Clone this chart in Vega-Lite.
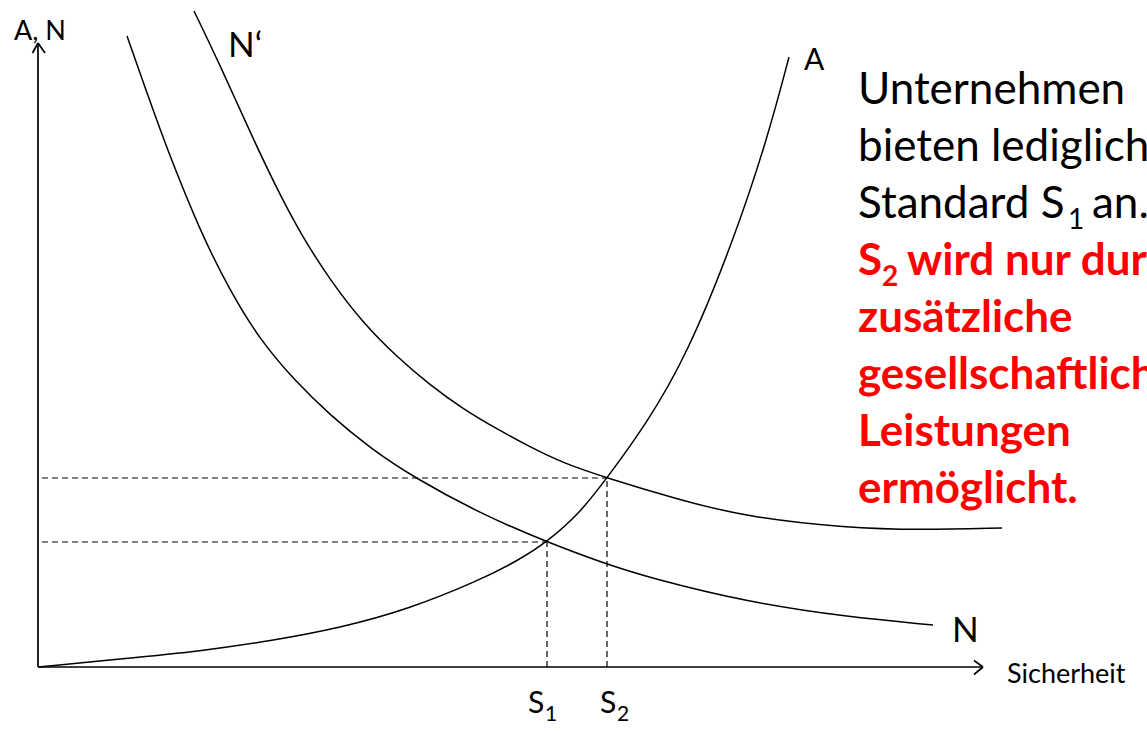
{
  "$schema": "https://vega.github.io/schema/vega-lite/v6.json",
  "width": 1147,
  "height": 731,
  "padding": 0,
  "autosize": {"type": "none"},
  "background": "white",
  "config": {"view": {"stroke": null}, "font": "Lato"},
  "encoding": {
    "x": {"field": "x", "type": "quantitative", "scale": {"domain": [-3.8, 110.9], "nice": false, "zero": false}, "axis": null},
    "y": {"field": "y", "type": "quantitative", "scale": {"domain": [-6.4, 66.7], "nice": false, "zero": false}, "axis": null}
  },
  "datasets": {
    "curves": [
      {"curve": "N", "x": 8.9, "y": 63.1},
      {"curve": "N", "x": 10.9, "y": 57.4},
      {"curve": "N", "x": 12.9, "y": 51.8},
      {"curve": "N", "x": 16.2, "y": 43.6},
      {"curve": "N", "x": 19.2, "y": 37.6},
      {"curve": "N", "x": 22.2, "y": 32.7},
      {"curve": "N", "x": 25.7, "y": 28.6},
      {"curve": "N", "x": 29.2, "y": 25.2},
      {"curve": "N", "x": 33.2, "y": 21.9},
      {"curve": "N", "x": 37.5, "y": 19.0},
      {"curve": "N", "x": 44.5, "y": 15.2},
      {"curve": "N", "x": 50.9, "y": 12.5},
      {"curve": "N", "x": 56.5, "y": 10.4},
      {"curve": "N", "x": 61.2, "y": 8.9},
      {"curve": "N", "x": 70.9, "y": 6.5},
      {"curve": "N", "x": 80.9, "y": 5.0},
      {"curve": "N", "x": 89.5, "y": 4.2},
      {"curve": "N'", "x": 15.6, "y": 65.6},
      {"curve": "N'", "x": 18.2, "y": 60.2},
      {"curve": "N'", "x": 21.2, "y": 53.5},
      {"curve": "N'", "x": 23.7, "y": 48.2},
      {"curve": "N'", "x": 26.2, "y": 43.4},
      {"curve": "N'", "x": 29.2, "y": 38.7},
      {"curve": "N'", "x": 32.5, "y": 34.4},
      {"curve": "N'", "x": 35.9, "y": 31.0},
      {"curve": "N'", "x": 39.2, "y": 28.2},
      {"curve": "N'", "x": 42.5, "y": 25.8},
      {"curve": "N'", "x": 45.9, "y": 23.8},
      {"curve": "N'", "x": 49.2, "y": 22.0},
      {"curve": "N'", "x": 52.5, "y": 20.4},
      {"curve": "N'", "x": 56.9, "y": 18.9},
      {"curve": "N'", "x": 64.2, "y": 16.7},
      {"curve": "N'", "x": 70.9, "y": 15.0},
      {"curve": "N'", "x": 80.9, "y": 13.9},
      {"curve": "N'", "x": 88.2, "y": 13.7},
      {"curve": "N'", "x": 96.4, "y": 13.9},
      {"curve": "A", "x": 0.0, "y": 0.0},
      {"curve": "A", "x": 8.2, "y": 0.8},
      {"curve": "A", "x": 16.4, "y": 1.6},
      {"curve": "A", "x": 23.2, "y": 2.6},
      {"curve": "A", "x": 30.2, "y": 3.9},
      {"curve": "A", "x": 37.1, "y": 5.8},
      {"curve": "A", "x": 44.0, "y": 8.6},
      {"curve": "A", "x": 48.1, "y": 10.7},
      {"curve": "A", "x": 50.9, "y": 12.5},
      {"curve": "A", "x": 54.2, "y": 15.4},
      {"curve": "A", "x": 56.9, "y": 18.9},
      {"curve": "A", "x": 60.9, "y": 24.4},
      {"curve": "A", "x": 64.9, "y": 31.2},
      {"curve": "A", "x": 69.5, "y": 42.5},
      {"curve": "A", "x": 72.9, "y": 52.7},
      {"curve": "A", "x": 75.1, "y": 61.0}
    ],
    "dashed": [
      {"x": 0.4, "y": 12.5, "x2": 50.9, "y2": 12.5},
      {"x": 0.4, "y": 18.9, "x2": 56.9, "y2": 18.9},
      {"x": 50.9, "y": 0.0, "x2": 50.9, "y2": 12.5},
      {"x": 56.9, "y": 0.0, "x2": 56.9, "y2": 18.9}
    ],
    "axes": [
      {"x": 0.0, "y": 0.0, "x2": 0.0, "y2": 62.4},
      {"x": 0.0, "y": 62.4, "x2": -0.55, "y2": 61.4},
      {"x": 0.0, "y": 62.4, "x2": 0.7, "y2": 61.4},
      {"x": 0.0, "y": 0.0, "x2": 94.5, "y2": 0.0},
      {"x": 94.5, "y": 0.0, "x2": 93.6, "y2": 0.65},
      {"x": 94.5, "y": 0.0, "x2": 93.6, "y2": -0.75}
    ],
    "labels": [
      {"text": "A, N", "role": "axis", "x": -2.4, "y": 62.7},
      {"text": "Sicherheit", "role": "axis", "x": 96.9, "y": -1.6},
      {"text": "N‘", "role": "curve", "x": 19.0, "y": 61.0},
      {"text": "N", "role": "curve", "x": 91.4, "y": 2.5},
      {"text": "A", "role": "curveA", "x": 76.6, "y": 59.7},
      {"text": "S", "role": "tick", "x": 49.0, "y": -4.6},
      {"text": "S", "role": "tick", "x": 56.2, "y": -4.6},
      {"text": "1", "role": "ticksub", "x": 50.7, "y": -5.4},
      {"text": "2", "role": "ticksub", "x": 57.9, "y": -5.4},
      {"text": "Unternehmen", "role": "note", "x": 82.0, "y": 56.3},
      {"text": "bieten lediglich", "role": "note", "x": 82.0, "y": 50.6},
      {"text": "Standard S", "role": "note", "x": 82.0, "y": 44.9},
      {"text": "an.", "role": "note", "x": 105.4, "y": 44.9},
      {"text": "1", "role": "notesub", "x": 103.0, "y": 43.8},
      {"text": "S", "role": "emph", "x": 82.0, "y": 39.2},
      {"text": "2", "role": "emphsub", "x": 84.4, "y": 38.1},
      {"text": "wird nur durch", "role": "emph", "x": 86.9, "y": 39.2},
      {"text": "zusätzliche", "role": "emph", "x": 82.0, "y": 33.5},
      {"text": "gesellschaftliche", "role": "emph", "x": 82.0, "y": 27.8},
      {"text": "Leistungen", "role": "emph", "x": 82.0, "y": 22.1},
      {"text": "ermöglicht.", "role": "emph", "x": 82.0, "y": 16.4}
    ]
  },
  "layer": [
    {
      "data": {"name": "curves"},
      "mark": {"type": "line", "interpolate": "basis", "color": "black", "strokeWidth": 1.5},
      "encoding": {"detail": {"field": "curve", "type": "nominal"}}
    },
    {
      "data": {"name": "dashed"},
      "mark": {"type": "rule", "color": "black", "strokeWidth": 1.2, "strokeDash": [6, 4]},
      "encoding": {"x2": {"field": "x2"}, "y2": {"field": "y2"}}
    },
    {
      "data": {"name": "axes"},
      "mark": {"type": "rule", "color": "black", "strokeWidth": 1.7},
      "encoding": {"x2": {"field": "x2"}, "y2": {"field": "y2"}}
    },
    {
      "data": {"name": "labels"},
      "transform": [{"filter": "datum.role == 'axis'"}],
      "mark": {"type": "text", "align": "left", "baseline": "alphabetic", "color": "black", "fontSize": 27},
      "encoding": {"text": {"field": "text"}}
    },
    {
      "data": {"name": "labels"},
      "transform": [{"filter": "datum.role == 'curve'"}],
      "mark": {"type": "text", "align": "left", "baseline": "alphabetic", "color": "black", "fontSize": 35},
      "encoding": {"text": {"field": "text"}}
    },
    {
      "data": {"name": "labels"},
      "transform": [{"filter": "datum.role == 'curveA'"}],
      "mark": {"type": "text", "align": "left", "baseline": "alphabetic", "color": "black", "fontSize": 30},
      "encoding": {"text": {"field": "text"}}
    },
    {
      "data": {"name": "labels"},
      "transform": [{"filter": "datum.role == 'tick'"}],
      "mark": {"type": "text", "align": "left", "baseline": "alphabetic", "color": "black", "fontSize": 30},
      "encoding": {"text": {"field": "text"}}
    },
    {
      "data": {"name": "labels"},
      "transform": [{"filter": "datum.role == 'ticksub'"}],
      "mark": {"type": "text", "align": "left", "baseline": "alphabetic", "color": "black", "fontSize": 21},
      "encoding": {"text": {"field": "text"}}
    },
    {
      "data": {"name": "labels"},
      "transform": [{"filter": "datum.role == 'note'"}],
      "mark": {"type": "text", "align": "left", "baseline": "alphabetic", "color": "black", "fontSize": 44},
      "encoding": {"text": {"field": "text"}}
    },
    {
      "data": {"name": "labels"},
      "transform": [{"filter": "datum.role == 'notesub'"}],
      "mark": {"type": "text", "align": "left", "baseline": "alphabetic", "color": "black", "fontSize": 28},
      "encoding": {"text": {"field": "text"}}
    },
    {
      "data": {"name": "labels"},
      "transform": [{"filter": "datum.role == 'emph'"}],
      "mark": {"type": "text", "align": "left", "baseline": "alphabetic", "color": "#ff0000", "fontWeight": "bold", "fontSize": 44},
      "encoding": {"text": {"field": "text"}}
    },
    {
      "data": {"name": "labels"},
      "transform": [{"filter": "datum.role == 'emphsub'"}],
      "mark": {"type": "text", "align": "left", "baseline": "alphabetic", "color": "#ff0000", "fontWeight": "bold", "fontSize": 28},
      "encoding": {"text": {"field": "text"}}
    }
  ]
}
